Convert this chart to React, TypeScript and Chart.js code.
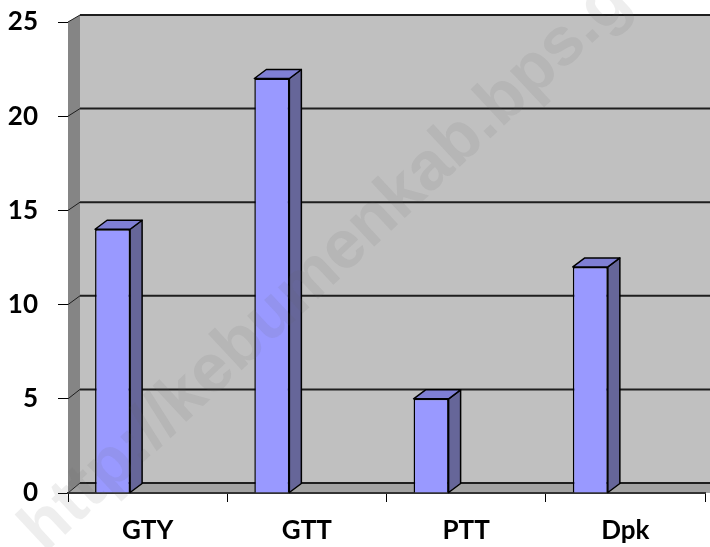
import { useEffect, useRef } from "react";
import { Chart, registerables } from "chart.js";

Chart.register(...registerables);

const categories = ["GTY", "GTT", "PTT", "Dpk"];
const values = [14, 22, 5, 12];
const yMin = 0;
const yMax = 25;
const yStep = 5;
const watermark = "http://kebumenkab.bps.go.id";

const FONT = 'Lato, "Open Sans", "DejaVu Sans", sans-serif';
const DX = 12; // depth offset x
const DYB = 10; // depth offset y at bottom
const DYT = 7; // depth offset y at top
const BAR_DY = 9;
const BAR_SHIFT = 0.22; // fraction of category width

function dyAt(v: number) {
  return DYB + ((DYT - DYB) * (v - yMin)) / (yMax - yMin);
}

const walls3d = {
  id: "walls3d",
  beforeDraw(chart: any) {
    const { ctx, chartArea: a, scales } = chart;
    const ys = scales.y;
    const W = chart.width;
    const bl = a.left + DX;
    const backY = (v: number) => ys.getPixelForValue(v) - dyAt(v);
    ctx.save();
    ctx.fillStyle = "#c0c0c0";
    ctx.beginPath();
    ctx.moveTo(bl, backY(yMax));
    ctx.lineTo(W, backY(yMax));
    ctx.lineTo(W, backY(yMin));
    ctx.lineTo(bl, backY(yMin));
    ctx.closePath();
    ctx.fill();
    ctx.fillStyle = "#858585";
    ctx.beginPath();
    ctx.moveTo(a.left, ys.getPixelForValue(yMax));
    ctx.lineTo(bl, backY(yMax));
    ctx.lineTo(bl, backY(yMin));
    ctx.lineTo(a.left, ys.getPixelForValue(yMin));
    ctx.closePath();
    ctx.fill();
    ctx.fillStyle = "#a3a3a3";
    ctx.beginPath();
    ctx.moveTo(a.left, ys.getPixelForValue(yMin));
    ctx.lineTo(bl, backY(yMin));
    ctx.lineTo(W, backY(yMin));
    ctx.lineTo(W, ys.getPixelForValue(yMin));
    ctx.closePath();
    ctx.fill();
    ctx.strokeStyle = "#1e1e1e";
    for (const t of ys.ticks) {
      const v = t.value;
      const yf = ys.getPixelForValue(v);
      const yb = backY(v);
      ctx.lineWidth = 1;
      ctx.beginPath();
      ctx.moveTo(a.left, yf);
      ctx.lineTo(bl, yb);
      ctx.stroke();
      ctx.lineWidth = 2;
      ctx.beginPath();
      ctx.moveTo(bl, yb);
      ctx.lineTo(W, yb);
      ctx.stroke();
    }
    ctx.restore();
  },
  beforeDatasetsDraw(chart: any) {
    const xs = chart.scales.x;
    const catW = (xs.right - xs.left) / categories.length;
    chart.ctx.save();
    chart.ctx.translate(-catW * BAR_SHIFT, 0);
  },
  afterDatasetsDraw(chart: any) {
    const { ctx } = chart;
    const meta = chart.getDatasetMeta(0);
    ctx.lineWidth = 1.5;
    ctx.strokeStyle = "#000";
    ctx.lineJoin = "round";
    for (const el of meta.data as any[]) {
      const p = el.getProps(["x", "y", "base", "width"], true);
      const x0 = p.x - p.width / 2;
      const x1 = p.x + p.width / 2;
      const top = p.y;
      const base = p.base;
      ctx.fillStyle = "#666699";
      ctx.beginPath();
      ctx.moveTo(x1, top);
      ctx.lineTo(x1 + DX, top - BAR_DY);
      ctx.lineTo(x1 + DX, base - BAR_DY);
      ctx.lineTo(x1, base);
      ctx.closePath();
      ctx.fill();
      ctx.stroke();
      ctx.fillStyle = "#7f7fd4";
      ctx.beginPath();
      ctx.moveTo(x0, top);
      ctx.lineTo(x0 + DX, top - BAR_DY);
      ctx.lineTo(x1 + DX, top - BAR_DY);
      ctx.lineTo(x1, top);
      ctx.closePath();
      ctx.fill();
      ctx.stroke();
    }
    ctx.restore();
  },
  afterDraw(chart: any) {
    const { ctx } = chart;
    ctx.save();
    ctx.translate(32, 540);
    ctx.rotate((-43 * Math.PI) / 180);
    ctx.font = 'bold 68px "Liberation Sans", Arial, sans-serif';
    ctx.fillStyle = "rgba(100,100,100,0.11)";
    ctx.textAlign = "left";
    ctx.textBaseline = "middle";
    ctx.fillText(watermark, 0, 0);
    ctx.restore();
  },
};

export default function App() {
  const ref = useRef<HTMLCanvasElement | null>(null);
  useEffect(() => {
    if (!ref.current) return;
    const chart = new Chart(ref.current, {
      type: "bar",
      data: {
        labels: categories,
        datasets: [
          {
            data: values,
            backgroundColor: "#9999ff",
            borderColor: "#000",
            borderWidth: 1.5,
            barPercentage: 0.22,
            categoryPercentage: 1,
          },
        ],
      },
      options: {
        animation: false,
        responsive: true,
        maintainAspectRatio: false,
        layout: { padding: { top: 22, right: 5, left: 0, bottom: 0 } },
        plugins: {
          legend: { display: false },
          tooltip: { enabled: false },
        },
        scales: {
          x: {
            afterFit: (s: any) => {
              s.height = 54;
              s.paddingLeft = 0;
              s.paddingRight = 0;
            },
            grid: {
              drawOnChartArea: false,
              tickLength: 9,
              color: "#000",
              lineWidth: 1,
            },
            border: { display: true, color: "#333", width: 2 },
            ticks: {
              color: "#000",
              padding: 13,
              font: { family: FONT, size: 26, weight: "bold" },
            },
          },
          y: {
            min: yMin,
            max: yMax,
            afterFit: (s: any) => {
              s.width = 68;
              s.paddingTop = 0;
              s.paddingBottom = 0;
            },
            grid: {
              drawOnChartArea: false,
              tickLength: 10,
              color: "#000",
              lineWidth: 1,
            },
            border: { display: false },
            ticks: {
              stepSize: yStep,
              color: "#000",
              padding: 20,
              font: { family: FONT, size: 26, weight: "bold" },
            },
          },
        },
      },
      plugins: [walls3d],
    });
    return () => chart.destroy();
  }, []);
  return (
    <div style={{ position: "fixed", left: 0, top: 0, width: 710, height: 547, background: "#fff" }}>
      <canvas ref={ref} />
    </div>
  );
}
